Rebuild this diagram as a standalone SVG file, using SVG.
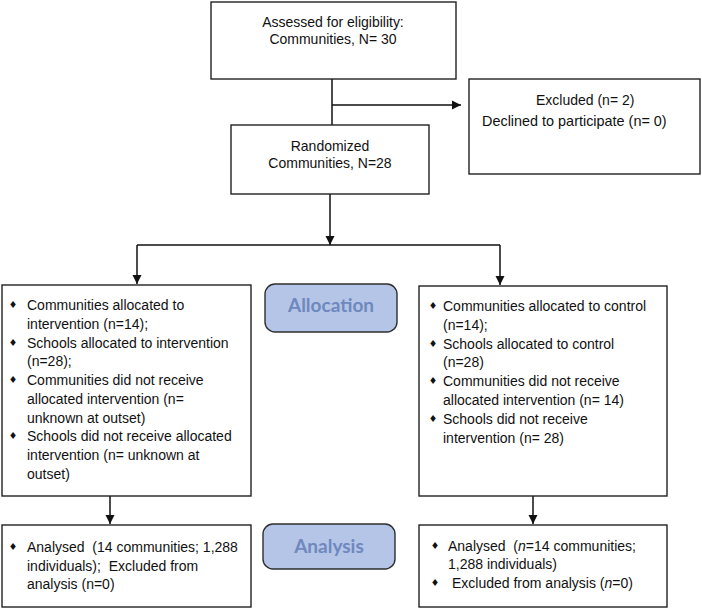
<svg xmlns="http://www.w3.org/2000/svg" width="702" height="609" viewBox="0 0 702 609">
<defs>
<style>
.box{fill:#fff;stroke:#222;stroke-width:1.4}
.tag{fill:#b4c5e7;stroke:#2e2e2e;stroke-width:1.4}
.t{font-family:"Liberation Sans",Arial,sans-serif;font-size:14px;fill:#111}
.c{text-anchor:middle}
.b{font-family:"DejaVu Sans",sans-serif;font-size:9.5px;fill:#111;text-anchor:middle}
.lab{font-family:Lato,"Open Sans",sans-serif;font-weight:bold;font-size:19px;fill:#6f88bd;text-anchor:middle}
.ln{fill:none;stroke:#111;stroke-width:1.5}
</style>
<marker id="ah" markerUnits="userSpaceOnUse" markerWidth="10" markerHeight="10" refX="9" refY="5" orient="auto">
<path d="M0,0.5 L9,5 L0,9.5 Z" fill="#111"/>
</marker>
</defs>
<rect width="702" height="609" fill="#fff"/>

<g id="connectors">
<path class="ln" d="M332,79 V125"/>
<path class="ln" d="M332,105 H461" marker-end="url(#ah)"/>
<path class="ln" d="M330,194 V245" marker-end="url(#ah)"/>
<path class="ln" d="M137,245 H500"/>
<path class="ln" d="M137,245 V284" marker-end="url(#ah)"/>
<path class="ln" d="M500,245 V285" marker-end="url(#ah)"/>
<path class="ln" d="M110,496 V524" marker-end="url(#ah)"/>
<path class="ln" d="M533,496 V524" marker-end="url(#ah)"/>
</g>

<g id="assessed">
<rect class="box" x="211" y="2" width="245" height="77"/>
<text class="t c" transform="translate(333,27) scale(1,1.08)">Assessed for eligibility:</text>
<text class="t c" transform="translate(333,44) scale(1,1.08)">Communities, N= 30</text>
</g>

<g id="excluded">
<rect class="box" x="469" y="79" width="231" height="95"/>
<text class="t" transform="translate(536,105) scale(1,1.08)">Excluded (n= 2)</text>
<text class="t" transform="translate(482,126) scale(1.03,1.08)">Declined to participate (n= 0)</text>
</g>

<g id="randomized">
<rect class="box" x="231" y="125" width="198" height="69"/>
<text class="t c" transform="translate(330,151) scale(1,1.08)">Randomized</text>
<text class="t c" transform="translate(330,168) scale(1,1.08)">Communities, N=28</text>
</g>

<g id="intervention">
<rect class="box" x="2" y="285" width="249" height="211"/>
<text class="b" x="13" y="308">♦</text>
<text class="t" x="27" y="310">Communities allocated to</text>
<text class="t" x="27" y="329">intervention (n=14);</text>
<text class="b" x="13" y="346">♦</text>
<text class="t" x="27" y="348">Schools allocated to intervention</text>
<text class="t" x="27" y="366">(n=28);</text>
<text class="b" x="13" y="383">♦</text>
<text class="t" x="27" y="385">Communities did not receive</text>
<text class="t" x="27" y="404">allocated intervention (n=</text>
<text class="t" x="27" y="423">unknown at outset)</text>
<text class="b" x="13" y="439">♦</text>
<text class="t" x="27" y="441">Schools did not receive allocated</text>
<text class="t" x="27" y="460">intervention (n= unknown at</text>
<text class="t" x="27" y="479">outset)</text>
</g>

<g id="allocation">
<rect class="tag" x="265" y="284" width="132" height="48" rx="10"/>
<text class="lab" x="331" y="312">Allocation</text>
</g>

<g id="control">
<rect class="box" x="419" y="286" width="248" height="210"/>
<text class="b" x="433" y="309">♦</text>
<text class="t" x="443" y="311">Communities allocated to control</text>
<text class="t" x="443" y="330">(n=14);</text>
<text class="b" x="433" y="347">♦</text>
<text class="t" x="443" y="349">Schools allocated to control</text>
<text class="t" x="443" y="367">(n=28)</text>
<text class="b" x="433" y="384">♦</text>
<text class="t" x="443" y="386">Communities did not receive</text>
<text class="t" x="443" y="405">allocated intervention (n= 14)</text>
<text class="b" x="433" y="422">♦</text>
<text class="t" x="443" y="424">Schools did not receive</text>
<text class="t" x="443" y="443">intervention (n= 28)</text>
</g>

<g id="analysed-intervention">
<rect class="box" x="2" y="525" width="249" height="82"/>
<text class="b" x="13" y="550">♦</text>
<text class="t" x="27" y="552" xml:space="preserve">Analysed  (14 communities; 1,288</text>
<text class="t" x="27" y="571" xml:space="preserve">individuals);  Excluded from</text>
<text class="t" x="27" y="589">analysis (n=0)</text>
</g>

<g id="analysis">
<rect class="tag" x="263" y="524" width="132" height="45" rx="10"/>
<text class="lab" x="329" y="553">Analysis</text>
</g>

<g id="analysed-control">
<rect class="box" x="419" y="525" width="248" height="82"/>
<text class="b" x="435" y="549">♦</text>
<text class="t" x="448" y="551" xml:space="preserve">Analysed  (<tspan font-style="italic">n</tspan>=14 communities;</text>
<text class="t" x="448" y="569">1,288 individuals)</text>
<text class="b" x="435" y="586">♦</text>
<text class="t" x="452" y="588">Excluded from analysis (<tspan font-style="italic">n</tspan>=0)</text>
</g>
</svg>
